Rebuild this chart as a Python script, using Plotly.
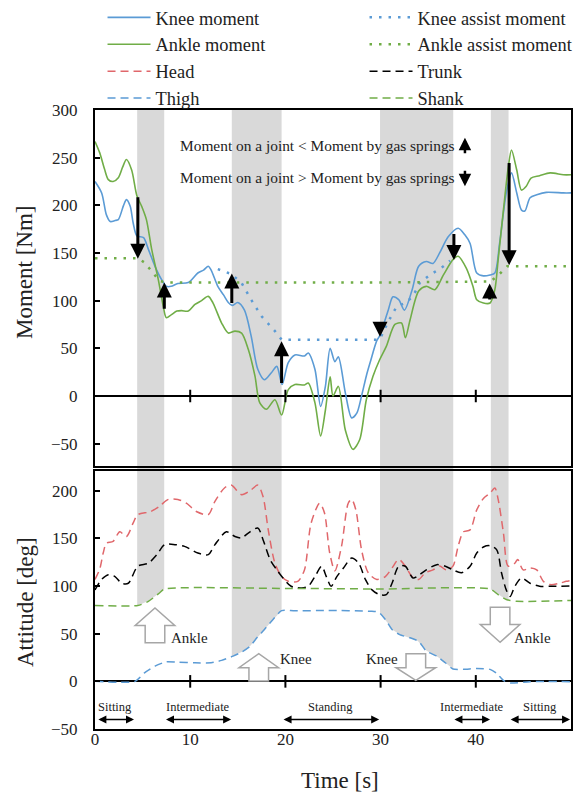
import numpy as np
import plotly.graph_objects as go

# ---------------- data ----------------
knee_t = [0, 0.7, 1.2, 1.6, 2.1, 2.45, 3.0, 3.3, 3.7, 4.0, 4.4, 5.1, 5.6, 6.3, 7.0, 7.5, 8.0, 8.7,
          9.8, 10.8, 11.4, 11.9, 12.2, 12.9, 13.5, 14.0, 14.4, 15.0, 15.7, 16.4, 17.1, 17.8, 18.5,
          19.1, 19.65, 20.3, 21.0, 22.0, 22.4, 23.1, 23.7, 24.2, 24.7, 25.2, 25.56, 26.3, 26.96,
          27.5, 28.0, 28.5, 28.9, 29.6, 29.9, 30.8, 31.3, 31.9, 32.5, 33.3, 34.0, 34.8, 35.5, 36.2,
          37.1, 38.15, 38.85, 39.4, 40.1, 40.8, 41.5, 42.0, 42.5, 43.2, 43.75, 44.3, 44.8, 45.15,
          45.7, 46.4, 47.4, 49.2, 50]
knee_moment = [225, 213, 190, 183, 184, 185, 200, 206, 199, 182, 168, 166, 154, 136, 122, 115, 115, 118,
               119, 129, 132, 136, 132, 115, 106, 98, 95, 98, 90, 63, 28, 17, 24,
               31, 12, 35, 43, 42, 45, 28, -11, 10, 50, 36, 41, 3, -23,
               -18, 0, 21, 35, 58, 63, 90, 104, 101, 90, 111, 136, 141, 139, 150,
               167, 176, 169, 160, 129, 126, 127, 129, 160, 213, 234, 213, 195, 194,
               208, 211, 213.6, 213, 213]

ankle_t = [0, 0.5, 1.0, 1.4, 1.9, 2.45, 2.9, 3.3, 3.85, 4.4, 4.9, 5.4, 5.95, 6.65, 7.17, 7.5, 8.0,
           8.6, 9.1, 9.8, 10.5, 11.2, 11.9, 12.4, 13.3, 14.0, 14.7, 15.4, 16.1, 16.8, 17.3, 18.0,
           18.9, 19.6, 20.3, 21.0, 22.0, 22.4, 23.1, 23.7, 24.2, 24.7, 25.0, 25.56, 26.3, 27.1,
           27.8, 28.5, 29.2, 29.9, 30.6, 31.5, 32.2, 32.6, 33.1, 34.0, 34.8, 35.7, 36.6, 37.6,
           38.15, 39.0, 39.7, 40.1, 40.8, 41.5, 42.0, 42.35, 42.9, 43.4, 43.75, 44.3, 44.8, 45.3,
           45.8, 46.7, 47.8, 49.2, 50]
ankle_moment = [267, 255, 238, 227, 225, 229, 240, 248, 237, 210, 199, 185, 154, 122, 94, 82, 85,
                89, 89.5, 89, 96, 100, 104.5, 97.5, 76.5, 66, 68, 66, 49, 21, -7, -14,
                -4, -20, 6.6, 12, 11.5, 13.6, -7, -42, -15, 20, 0, 10, -36, -56,
                -46, -4, 20.6, 38, 52, 75, 76.5, 61, 80, 110, 115, 111.5, 127, 143,
                146.5, 134, 115, 101, 97.5, 97.5, 111.5, 143, 195, 239, 258, 237, 216, 220,
                228.6, 231, 234, 232, 232]

knee_assist_t = [12.9, 14.3, 15.4, 16.4, 17.5, 18.9, 19.6, 25.0, 29.9, 30.8, 31.7, 32.6, 33.4,
                 34.1, 35.2, 36.6, 37.3]
knee_assist = [133, 128, 118.5, 101, 83.5, 68, 59, 59, 59, 78, 94, 97.5, 104.5,
               118.5, 127, 136, 142]

ankle_assist_t = [0, 4.5, 5.2, 6.1, 6.8, 7.5, 20, 30, 41.5, 42.3, 43.3, 50]
ankle_assist = [144.5, 144.5, 140, 129, 120.5, 119, 119, 119, 120, 126, 136, 136]

head_t = [0, 0.5, 0.87, 1.2, 1.9, 2.6, 3.3, 4.0, 4.5, 5.8, 6.8, 7.7, 8.7, 9.6, 10.7, 11.9, 12.6,
          13.6, 14.3, 15.4, 16.4, 17.1, 17.65, 18.2, 18.9, 19.6, 20.3, 21.3, 22.0, 22.7, 23.6,
          24.1, 24.65, 25.2, 25.9, 26.6, 26.96, 27.4, 28.0, 28.7, 29.6, 30.5, 31.2, 31.9, 32.6,
          33.3, 34.0, 34.7, 35.5, 36.2, 36.9, 37.6, 38.15, 38.7, 39.4, 40.1, 40.8, 41.5, 42.0,
          42.35, 42.9, 43.4, 44.1, 44.4, 44.97, 45.7, 46.4, 47.1, 47.8, 48.8, 49.5, 50]
head = [107, 118, 135, 145, 147, 157, 152, 166, 175, 178, 184, 191, 191, 187, 178, 175, 189,
        203, 206, 196, 201, 206, 194, 159, 124, 110, 105, 105, 117, 166, 187,
        177, 135, 116, 142, 187, 191, 180, 138, 114, 107, 110, 119, 128, 121,
        110, 107, 114, 117, 121, 117, 121, 142, 157, 159, 180, 192, 197.5, 203,
        191, 156, 121, 124, 128, 117, 119, 117, 105, 101.6, 103, 105, 106]

trunk_t = [0, 0.7, 1.4, 2.1, 2.8, 3.5, 4.5, 5.6, 6.5, 7.3, 8.4, 9.4, 10.8, 11.9, 12.6, 13.8, 14.7,
           15.4, 16.1, 17.1, 17.65, 18.4, 19.1, 19.75, 20.6, 21.7, 22.4, 23.1, 23.8, 24.3, 24.8,
           25.4, 26.1, 26.96, 27.7, 28.4, 29.1, 29.9, 30.6, 31.2, 31.9, 32.6, 33.4, 34.1, 34.8,
           35.9, 36.8, 37.6, 38.5, 39.4, 40.1, 40.8, 41.5, 42.2, 42.7, 43.2, 43.6, 44.1, 44.8,
           45.7, 46.7, 47.8, 50]
trunk = [96, 107, 112, 110, 103, 103, 121, 124, 133, 143.5, 143.5, 141.7, 134.7, 133, 143.5, 157, 152,
         150.4, 155.7, 161, 148.7, 127.7, 117, 108.5, 99.8, 98, 99.8, 110, 120.8, 110, 99.8,
         110, 119, 129.5, 124, 107, 96, 91, 91, 103, 120.8, 120.8, 108.5, 112, 117,
         122.5, 120.8, 117, 114, 120.8, 134.7, 141, 142.4, 138, 114, 96, 89, 99.8, 108.5,
         103, 99.8, 99.8, 100]

shank_t = [0, 4.5, 5.6, 6.8, 7.3, 20, 30, 41.5, 42.35, 43.2, 44.3, 50]
shank = [79.6, 79.6, 84, 93, 97, 97.5, 97, 97, 91, 86, 84, 85]

thigh_t = [0, 4.2, 5.2, 6.3, 7.5, 8.7, 10.5, 12.2, 13.3, 14.5, 15.4, 16.3, 17.0, 17.8, 18.7, 19.6,
           21, 24.5, 28.9, 29.8, 30.5, 31.2, 32.0, 33.1, 34.0, 34.8, 35.9, 36.8, 37.6, 38.7, 40.1,
           41.5, 42.2, 42.9, 43.6, 45.7, 50]
thigh = [0, 0, 9, 16, 20.6, 20, 19.5, 19.5, 22, 26.5, 30.7, 37, 45.7, 54.5, 65, 74.3,
         74, 74.5, 73.6, 72.6, 65, 54.5, 49, 45.7, 42, 31.8, 26.5, 19.5, 13, 12.6, 13.6,
         12.6, 8.4, 1, -1.7, -0.3, -0.3]

# shaded phases (s)
band_start = [4.43, 14.37, 29.94, 41.58]
band_end = [7.27, 19.6, 37.63, 43.44]
band_floor = ["shank", "thigh", "thigh", "shank"]

# phase labels
phase_names = ["Sitting", "Intermediate", "Standing", "Intermediate", "Sitting"]
phase_start = [0.2, 7.3, 19.65, 37.6, 43.5]
phase_end = [4.1, 14.3, 29.85, 41.5, 49.9]

# black arrows in moment panel (x, from, to)
arrow_x = [4.5, 7.28, 14.37, 19.6, 29.94, 37.7, 41.46, 43.5]
arrow_from = [210, 90, 96, 12, 75, 171.5, 99.5, 246]
arrow_to = [144, 119, 128.5, 57.5, 62, 142.5, 118, 137]

x_ticks = [0, 10, 20, 30, 40, 50]
y1_ticks = [-50, 0, 50, 100, 150, 200, 250, 300]
y2_ticks = [-50, 0, 50, 100, 150, 200]

# ---------------- style ----------------
FONT = "Liberation Serif, Times New Roman, serif"
BLUE = "#5B9BD5"
GREEN = "#70AD47"
RED = "#E0676B"
BAND = "#D9D9D9"
Y1_RANGE = [-74, 300]
Y2_RANGE = [-50, 221]
Y2_DOM = [0, 0.4171]
Y1_DOM = [0.4241, 1]

FIG_W, FIG_H = 565, 789
PLOT_L, PLOT_W, PLOT_T, PLOT_H = 87, 476, 102, 619
PLOT_B = PLOT_T + PLOT_H
OFF = 8  # page offset of the figure

fig = go.Figure()

# bottom panel band fills (above thigh / shank curves)
floors = {"shank": (shank_t, shank), "thigh": (thigh_t, thigh)}
for x0, x1, fl in zip(band_start, band_end, band_floor):
    ft, fv = floors[fl]
    xs = np.linspace(x0, x1, 30)
    ys = np.interp(xs, ft, fv)
    px = list(xs) + [x1, x0]
    py = list(ys) + [Y2_RANGE[1], Y2_RANGE[1]]
    fig.add_trace(go.Scatter(x=px, y=py, xaxis="x2", yaxis="y2", mode="lines",
                             fill="toself", fillcolor=BAND, line=dict(width=0),
                             hoverinfo="skip", showlegend=False))

dot = "2.5px,7px"
dash = "8px,5px"
fig.add_trace(go.Scatter(x=knee_t, y=knee_moment, name="Knee moment", mode="lines",
                         line=dict(color=BLUE, width=1.6, shape="spline", smoothing=0.8),
                         legendrank=1))
fig.add_trace(go.Scatter(x=ankle_t, y=ankle_moment, name="Ankle moment", mode="lines",
                         line=dict(color=GREEN, width=1.6, shape="spline", smoothing=0.8),
                         legendrank=3))
fig.add_trace(go.Scatter(x=knee_assist_t, y=knee_assist, name="Knee assist moment", mode="lines",
                         line=dict(color=BLUE, width=2.5, dash=dot), legendrank=2))
fig.add_trace(go.Scatter(x=ankle_assist_t, y=ankle_assist, name="Ankle assist moment", mode="lines",
                         line=dict(color=GREEN, width=2.5, dash=dot), legendrank=4))

fig.add_trace(go.Scatter(x=head_t, y=head, name="Head", mode="lines", xaxis="x2", yaxis="y2",
                         line=dict(color=RED, width=1.5, dash=dash, shape="spline", smoothing=0.8),
                         legendrank=5))
fig.add_trace(go.Scatter(x=trunk_t, y=trunk, name="Trunk", mode="lines", xaxis="x2", yaxis="y2",
                         line=dict(color="black", width=1.5, dash=dash, shape="spline", smoothing=0.8),
                         legendrank=6))
fig.add_trace(go.Scatter(x=thigh_t, y=thigh, name="Thigh", mode="lines", xaxis="x2", yaxis="y2",
                         line=dict(color=BLUE, width=1.5, dash=dash, shape="spline", smoothing=0.6),
                         legendrank=7))
fig.add_trace(go.Scatter(x=shank_t, y=shank, name="Shank", mode="lines", xaxis="x2", yaxis="y2",
                         line=dict(color=GREEN, width=1.5, dash=dash, shape="spline", smoothing=0.6),
                         legendrank=8))

# tick marks on the zero lines
inner_ticks = x_ticks[1:-1]
for xa, ya in (("x", "y"), ("x2", "y2")):
    fig.add_trace(go.Scatter(x=inner_ticks, y=[0] * len(inner_ticks), xaxis=xa, yaxis=ya,
                             mode="markers", hoverinfo="skip", showlegend=False,
                             marker=dict(symbol="line-ns-open", size=9, color="black",
                                         line=dict(color="black", width=2))))

shapes = []
for x0, x1 in zip(band_start, band_end):
    shapes.append(dict(type="rect", xref="x", yref="y domain", x0=x0, x1=x1, y0=0, y1=1,
                       fillcolor=BAND, line=dict(width=0), layer="below"))
    shapes.append(dict(type="rect", xref="x", yref="paper", x0=x0, x1=x1,
                       y0=Y2_DOM[1], y1=Y1_DOM[0], fillcolor=BAND, line=dict(width=0),
                       layer="below"))


def block_arrow(xc, y_start, y_head, y_tip, shaft_half, head_half):
    pts = [(xc - shaft_half, y_start), (xc - shaft_half, y_head), (xc - head_half, y_head),
           (xc, y_tip), (xc + head_half, y_head), (xc + shaft_half, y_head),
           (xc + shaft_half, y_start)]
    return "M " + " L ".join(f"{a:.3f},{b:.3f}" for a, b in pts) + " Z"


# hollow joint arrows: (center, start, head base, tip)
block_arrows = [(6.3, 40.5, 58.6, 77.0), (17.2, 0.5, 14.3, 29.0),
                (33.7, 29.0, 14.3, 1.0), (42.55, 77.8, 59.7, 41.0)]
for xc, ys, yh, yt in block_arrows:
    shapes.append(dict(type="path", xref="x2", yref="y2",
                       path=block_arrow(xc, ys, yh, yt, 1.03, 2.08),
                       fillcolor="white", line=dict(color="#A6A6A6", width=1.5)))

annotations = []
# black arrows in moment panel
for x, a, b in zip(arrow_x, arrow_from, arrow_to):
    annotations.append(dict(x=x, y=b, ax=x, ay=a, xref="x", yref="y", axref="x", ayref="y",
                            showarrow=True, arrowhead=2, arrowsize=1.0, arrowwidth=3,
                            arrowcolor="black", text=""))
# explanatory text
txt_font = dict(family=FONT, size=15.4, color="#222222")
annotations.append(dict(x=8.76, y=263, xref="x", yref="y", xanchor="left", yanchor="middle",
                        showarrow=False,
                        text="Moment on a joint &lt; Moment by gas springs", font=txt_font))
annotations.append(dict(x=8.76, y=229, xref="x", yref="y", xanchor="left", yanchor="middle",
                        showarrow=False,
                        text="Moment on a joint &gt; Moment by gas springs", font=txt_font))
annotations.append(dict(x=38.86, y=271, xref="x", yref="y", ax=0, ay=17, showarrow=True,
                        arrowhead=2, arrowsize=1.0, arrowwidth=2.5, arrowcolor="black", text=""))
annotations.append(dict(x=38.86, y=220, xref="x", yref="y", ax=0, ay=-17, showarrow=True,
                        arrowhead=2, arrowsize=1.0, arrowwidth=2.5, arrowcolor="black", text=""))

# joint labels
joint_font = dict(family=FONT, size=15, color="#222222")
for x, y, t, anc in [(7.75, 46, "Ankle", "left"), (19.25, 23, "Knee", "left"),
                     (32.0, 23, "Knee", "right"), (43.75, 46, "Ankle", "left")]:
    annotations.append(dict(x=x, y=y, xref="x2", yref="y2", text=t, showarrow=False,
                            xanchor=anc, yanchor="middle", font=joint_font))

# phases
phase_font = dict(family=FONT, size=12.5, color="#222222")
for n, a, b in zip(phase_names, phase_start, phase_end):
    annotations.append(dict(x=(a + b) / 2, y=-26.5, xref="x2", yref="y2", text=n,
                            showarrow=False, xanchor="center", yanchor="middle", font=phase_font))
    annotations.append(dict(x=b, y=-40, ax=a, ay=-40, xref="x2", yref="y2", axref="x2",
                            ayref="y2", showarrow=True, arrowside="end+start", arrowhead=2,
                            arrowsize=1.0, arrowwidth=1.6, arrowcolor="black", text=""))


def paper_x(px):
    return (px - OFF - PLOT_L) / PLOT_W


def paper_y(py):
    return (PLOT_B - (py - OFF)) / PLOT_H


title_font = dict(family=FONT, size=23, color="#222222")
annotations.append(dict(x=paper_x(24), y=paper_y(272), xref="paper", yref="paper",
                        xanchor="center", yanchor="middle",
                        text="Moment [Nm]", textangle=-90, showarrow=False, font=title_font))
annotations.append(dict(x=paper_x(25), y=paper_y(602), xref="paper", yref="paper",
                        xanchor="center", yanchor="middle",
                        text="Attitude [deg]", textangle=-90, showarrow=False, font=title_font))
annotations.append(dict(x=paper_x(340), y=paper_y(780), xref="paper", yref="paper",
                        xanchor="center", yanchor="middle",
                        text="Time [s]", showarrow=False, font=title_font))

axis_common = dict(showline=True, mirror=True, linecolor="black", linewidth=2, showgrid=False,
                   tickfont=dict(family=FONT, size=17, color="#222222"))

fig.update_layout(
    width=FIG_W, height=FIG_H,
    margin=dict(l=PLOT_L, r=FIG_W - PLOT_L - PLOT_W, t=PLOT_T, b=FIG_H - PLOT_B,
                autoexpand=False),
    paper_bgcolor="white", plot_bgcolor="white",
    font=dict(family=FONT, color="#222222"),
    showlegend=True,
    legend=dict(orientation="h", x=-0.001, y=1.1795, xanchor="left", yanchor="top",
                indentation=8,
                entrywidth=196, entrywidthmode="pixels", traceorder="normal", itemwidth=43,
                font=dict(family=FONT, size=18.4, color="#222222"), bgcolor="rgba(0,0,0,0)"),
    xaxis=dict(domain=[0, 1], range=[0, 50], anchor="y", showticklabels=False, ticks="",
               zeroline=False, **axis_common),
    yaxis=dict(domain=Y1_DOM, range=Y1_RANGE, anchor="x", tickvals=y1_ticks, ticks="inside",
               ticklen=5, tickwidth=1.5, tickcolor="black", ticklabelstandoff=12,
               zeroline=True, zerolinecolor="black", zerolinewidth=2, **axis_common),
    xaxis2=dict(domain=[0, 1], range=[0, 50], anchor="y2", tickvals=x_ticks, ticks="",
                zeroline=False, ticklabelstandoff=-6, **axis_common),
    yaxis2=dict(domain=Y2_DOM, range=Y2_RANGE, anchor="x2", tickvals=y2_ticks, ticks="inside",
                ticklen=5, tickwidth=1.5, tickcolor="black", ticklabelstandoff=12,
                zeroline=True, zerolinecolor="black", zerolinewidth=2, **axis_common),
    shapes=shapes,
    annotations=annotations,
)

fig.write_html("out.html")
